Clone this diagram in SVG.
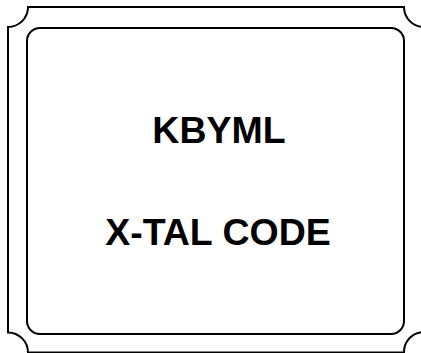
<svg xmlns="http://www.w3.org/2000/svg" width="421" height="353" viewBox="0 0 421 353">
<style>
.ln{fill:none;stroke:#000;stroke-width:2}
.t{font-family:"Liberation Sans",Arial,sans-serif;font-weight:bold;font-size:37.5px;fill:#000;text-anchor:middle}
</style>
<rect width="421" height="353" fill="#fff"/>
<g id="outer">
<path class="ln" d="M28,7 H404 A20,20 0 0 0 424,27 V332 A20,20 0 0 0 404,352.5 H28 A20,20 0 0 0 8,332.5 V27 A20,20 0 0 0 28,7 Z"/>
</g>
<g id="inner">
<rect class="ln" x="27" y="28" width="377" height="306" rx="13" ry="13"/>
</g>
<g id="labels">
<text class="t" x="219" y="143">KBYML</text>
<text class="t" x="218" y="245">X-TAL CODE</text>
</g>
</svg>
